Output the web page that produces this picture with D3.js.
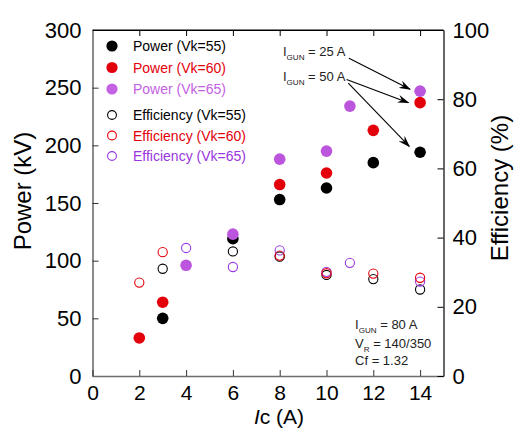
<!DOCTYPE html>
<html><head><meta charset="utf-8">
<script src="https://cdn.jsdelivr.net/npm/d3@7/dist/d3.min.js"></script>
<style>body{margin:0;background:#fff}svg{display:block;font-family:"Liberation Sans",Arial,sans-serif}</style>
</head><body><svg id="c" width="514" height="428"></svg>
<script>
// ---- data ----
const x55 = [3, 6, 8, 10, 12, 14];
const x60 = [2, 3, 8, 10, 12, 14];
const x65 = [4, 6, 8, 10, 11, 14];
const power55 = [50, 119, 153, 163, 185, 194];
const power60 = [33, 64, 166, 176, 213, 237];
const power65 = [96, 123, 188, 195, 234, 247];
const eff55 = [31, 36, 34.5, 29.2, 28, 25];
const eff60 = [27, 35.8, 34.8, 29.7, 29.6, 28.4];
const eff65 = [37, 31.5, 36.3, 30.1, 32.7, 27.3];
const xTicks = [0, 2, 4, 6, 8, 10, 12, 14];
const yTicks = [0, 50, 100, 150, 200, 250, 300];
const eTicks = [0, 20, 40, 60, 80, 100];
const legendLabels = ["Power (Vk=55)", "Power (Vk=60)", "Power (Vk=65)",
  "Efficiency (Vk=55)", "Efficiency (Vk=60)", "Efficiency (Vk=65)"];
// annotation arrows in data coords [x1,y1,x2,y2] (power axis)
const arrows = [[10.96, 275.5, 13.57, 248.6], [10.86, 257.1, 13.5, 237], [10.93, 254, 13.54, 199]];

const C = {black: "#000", red: "#e3000b", purpleF: "#bb55dd", purpleO: "#9a3ae0"};
const L = 92.5, R = 443.5, T = 30, B = 376;
const svg = d3.select("#c");
const x = d3.scaleLinear().domain([0, 15]).range([L, R]);
const y = d3.scaleLinear().domain([0, 300]).range([B, T]);
const ye = d3.scaleLinear().domain([0, 100]).range([B, T]);

// axes
const gL = svg.append("g").attr("transform", `translate(${L},0)`)
  .call(d3.axisLeft(y).tickValues(yTicks).tickSize(-6).tickPadding(11).tickSizeOuter(0));
const gB = svg.append("g").attr("transform", `translate(0,${B})`)
  .call(d3.axisBottom(x).tickValues(xTicks).tickSize(-6).tickPadding(9).tickSizeOuter(0));
const gT = svg.append("g").attr("transform", `translate(0,${T})`)
  .call(d3.axisTop(x).tickValues(xTicks.slice(1)).tickSize(-6).tickFormat("").tickSizeOuter(0));
const gR = svg.append("g").attr("transform", `translate(${R},0)`)
  .call(d3.axisRight(ye).tickValues(eTicks).tickSize(-6).tickPadding(9).tickSizeOuter(0));
[gL, gB].forEach(g => { g.select(".domain").attr("stroke", "#6e6e6e").attr("stroke-width", 1.6);
  g.selectAll(".tick line").attr("stroke", "#333"); });
[gT, gR].forEach(g => { g.select(".domain").attr("stroke", "#000").attr("stroke-width", 1.2);
  g.selectAll(".tick line").attr("stroke", "#000"); });
// explicit top frame line
svg.append("line").attr("x1", L).attr("x2", R).attr("y1", T).attr("y2", T)
  .attr("stroke", "#000").attr("stroke-width", 1.2);
svg.selectAll(".tick text").attr("font-size", 22).attr("fill", "#000")
  .attr("font-family", "Liberation Sans, Arial, sans-serif");
gB.selectAll(".tick text").attr("font-size", 21);

// axis titles
svg.append("text").attr("transform", "translate(31,191) rotate(-90)").attr("text-anchor", "middle")
  .attr("font-size", 24).text("Power (kV)");
svg.append("text").attr("transform", "translate(508,188) rotate(-90)").attr("text-anchor", "middle")
  .attr("font-size", 24).text("Efficiency (%)");
const xt = svg.append("text").attr("x", 279).attr("y", 423.5).attr("text-anchor", "middle").attr("font-size", 21);
xt.append("tspan").attr("font-style", "italic").text("I");
xt.append("tspan").text("c (A)");

// points
function filled(xs, vs, col) {
  svg.append("g").selectAll("circle").data(xs).join("circle")
    .attr("cx", d => x(d)).attr("cy", (d, i) => y(vs[i])).attr("r", 5.8).attr("fill", col);
}
function open(xs, vs, col) {
  svg.append("g").selectAll("circle").data(xs).join("circle")
    .attr("cx", d => x(d)).attr("cy", (d, i) => ye(vs[i])).attr("r", 4.6)
    .attr("fill", "none").attr("stroke", col).attr("stroke-width", 1.1);
}
open(x55, eff55, C.black);
open(x65, eff65, C.purpleO);
open(x60, eff60, C.red);
filled(x55, power55, C.black);
filled(x60, power60, C.red);
filled(x65, power65, C.purpleF);

// legend
const legCols = [C.black, C.red, "#c462e4", C.black, C.red, "#9b35dd"];
const legTextCols = ["#000", "#e3000b", "#c462e4", "#000", "#e3000b", "#9b35dd"];
const legY = [46, 67.5, 89, 115, 135.5, 156];
const lg = svg.append("g");
legendLabels.forEach((t, i) => {
  if (i < 3) lg.append("circle").attr("cx", 112).attr("cy", legY[i]).attr("r", 5.6).attr("fill", legCols[i]);
  else lg.append("circle").attr("cx", 112).attr("cy", legY[i]).attr("r", 4.4).attr("fill", "none")
    .attr("stroke", legCols[i]).attr("stroke-width", 1.1);
  lg.append("text").attr("x", 133).attr("y", legY[i] + 5).attr("font-size", 14)
    .attr("fill", legTextCols[i]).text(t);
});

// annotations
svg.append("defs").append("marker").attr("id", "ah").attr("viewBox", "0 0 12 8")
  .attr("refX", 11).attr("refY", 4).attr("markerWidth", 12).attr("markerHeight", 8)
  .attr("markerUnits", "userSpaceOnUse").attr("orient", "auto")
  .append("path").attr("d", "M0,0 L12,4 L0,8 L4,4 Z").attr("fill", "#000");
arrows.forEach(a => svg.append("line").attr("x1", x(a[0])).attr("y1", y(a[1]))
  .attr("x2", x(a[2])).attr("y2", y(a[3])).attr("stroke", "#000").attr("stroke-width", 1.1)
  .attr("marker-end", "url(#ah)"));
function subText(xv, yv, main, sub, rest, size) {
  const t = svg.append("text").attr("x", x(xv)).attr("y", y(yv)).attr("font-size", size).attr("fill", "#222");
  t.append("tspan").text(main);
  t.append("tspan").attr("font-size", size * 0.62).attr("dy", 4).text(sub);
  t.append("tspan").attr("dy", -4).text(rest);
}
subText(8.14, 277.5, "I", "GUN", " = 25 A", 13);
subText(8.14, 255.8, "I", "GUN", " = 50 A", 13);
subText(11.22, 40.8, "I", "GUN", " = 80 A", 13);
subText(11.22, 24.7, "V", "R", " = 140/350", 13);
svg.append("text").attr("x", x(11.22)).attr("y", y(9.5)).attr("font-size", 13).attr("fill", "#222").text("Cf = 1.32");
</script></body></html>
